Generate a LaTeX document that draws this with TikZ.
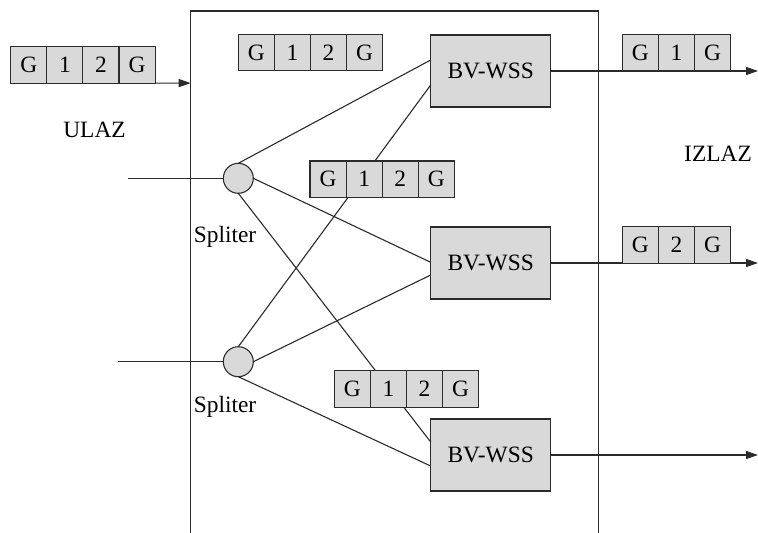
\documentclass[tikz,border=0pt]{standalone}
\usepackage{fontspec}
\setmainfont{Liberation Serif}
\usetikzlibrary{arrows.meta,calc}
\definecolor{ink}{HTML}{2B2B2B}
\definecolor{boxfill}{HTML}{D9D9D9}
\newcommand\lblfont{\fontsize{23.4}{28}\selectfont}
% a packet: row of square cells, named <name>-1, <name>-2, ...
\newcommand\packet[4]{%
  \foreach \t [count=\i] in {#4}{%
    \node[cell] (#1-\i) at ({#2+36.1*(\i-1)},#3) {\t};}}
\tikzset{
  wire/.style={draw=ink, line width=1.1pt},
  arrowwire/.style={wire, -{Triangle[length=12pt,width=8pt]}},
  cell/.style={draw=ink, fill=boxfill, line width=1.1pt, minimum width=36.1pt,
    minimum height=36.4pt, inner sep=0pt, outer sep=0pt, anchor=north west,
    font=\lblfont, text height=15.5pt, text depth=0pt},
  wss/.style={draw=ink, fill=boxfill, line width=1.1pt, minimum width=120pt,
    minimum height=72pt, inner sep=0pt, outer sep=0pt, font=\lblfont,
    text height=15.5pt, text depth=0pt},
  splitter/.style={circle, draw=ink, fill=boxfill, line width=1.1pt,
    minimum size=30pt, inner sep=0pt, outer sep=0pt},
  lbl/.style={font=\lblfont, inner sep=0pt}
}
\begin{document}
\begin{tikzpicture}[x=1pt, y=-1pt]
\useasboundingbox (0,0) rectangle (758,533);

% enclosure (open at the bottom)
\coordinate (fbl) at (190.7,534);
\coordinate (ftl) at (190.7,11);
\coordinate (ftr) at (598.7,11);
\coordinate (fbr) at (598.7,534);
\draw[wire] (fbl) -- (ftl) -- (ftr) -- (fbr);

% splitters and switches
\node[splitter] (s1) at (238.3,178.3) {};
\node[splitter] (s2) at (238.3,361.7) {};
\node[wss] (b1) at (490.7,71) {BV-WSS};
\node[wss] (b2) at (490.7,263) {BV-WSS};
\node[wss] (b3) at (490.7,455) {BV-WSS};

% labels
\node[lbl] (ulaz) at (94.5,130) {ULAZ};
\node[lbl] (izlaz) at (718,153.8) {IZLAZ};
\node[lbl] (sp1) at (225,236.5) {Spliter};
\node[lbl] (sp2) at (225,406.5) {Spliter};

% fibre inputs
\coordinate (i1) at (128,178.3);
\coordinate (i2) at (118,361.7);
\draw[wire] (i1) -- (s1.west);
\draw[wire] (i2) -- (s2.west);

% splitter to switch connections
\draw[wire] (s1.north) -- ($(b1.west)+(0,-11)$);
\draw[wire] (s1.east)  -- ($(b2.west)+(0,-0.7)$);
\draw[wire] (s1.south) -- ($(b3.west)+(0,-13)$);
\draw[wire] (s2.north) -- ($(b1.west)+(0,14)$);
\draw[wire] (s2.east)  -- ($(b2.west)+(0,12)$);
\draw[wire] (s2.south) -- ($(b3.west)+(0,11)$);

% outputs
\coordinate (o1) at (758,71);
\coordinate (o2) at (758,263);
\coordinate (o3) at (758,455);
\draw[arrowwire] (b1.east) -- (o1);
\draw[arrowwire] (b2.east) -- (o2);
\draw[arrowwire] (b3.east) -- (o3);

% packets
\packet{pin}{10.7}{46.7}{G,1,2,G}
\packet{pa}{238.3}{34.3}{G,1,2,G}
\packet{pb}{310}{161}{G,1,2,G}
\packet{pc}{334.3}{370.7}{G,1,2,G}
\packet{po1}{622.3}{34.3}{G,1,G}
\packet{po2}{622.3}{226.7}{G,2,G}

% input arrow into the enclosure
\coordinate (fin) at (190.7,83.1);
\draw[arrowwire] (pin-4.south east) -- (fin);
\end{tikzpicture}
\end{document}
